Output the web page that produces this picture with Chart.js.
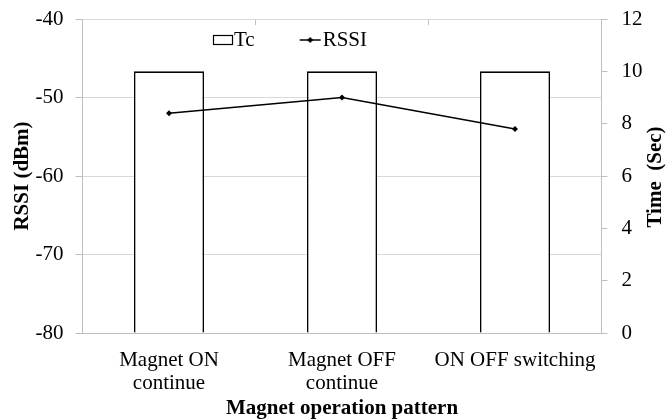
<!DOCTYPE html>
<html>
<head>
<meta charset="utf-8">
<script src="https://cdn.jsdelivr.net/npm/chart.js@4"></script>
<style>
html,body{margin:0;padding:0;background:#fff;}
#wrap{width:672px;height:419px;}
</style>
</head>
<body>
<div id="wrap"><canvas id="c" width="672" height="419"></canvas></div>
<script>
// ---- data ----
const categories = [["Magnet ON", "continue"], ["Magnet OFF", "continue"], "ON OFF switching"];
const tcValues = [10, 10, 10];
const rssiValues = [-52, -50, -54];
const rssiTicks = [-80, -70, -60, -50, -40];
const timeTicks = [0, 2, 4, 6, 8, 10, 12];
const seriesNames = ["Tc", "RSSI"];
const xTitle = "Magnet operation pattern";
const yTitle = "RSSI (dBm)";
const y1Title = "Time  (Sec)";

const FONT = '"Liberation Serif", "Times New Roman", serif';
const GRID = '#d9d9d9';
const AXIS = '#bfbfbf';

// legend symbols
function makeBoxIcon() {
  const c = document.createElement('canvas');
  c.width = 22; c.height = 12;
  const g = c.getContext('2d');
  g.fillStyle = '#fff';
  g.fillRect(1.5, 1.5, 19, 9);
  g.strokeStyle = '#000';
  g.lineWidth = 1.2;
  g.strokeRect(1.5, 1.5, 19, 9);
  return c;
}
function makeLineIcon() {
  const c = document.createElement('canvas');
  c.width = 30; c.height = 10;
  const g = c.getContext('2d');
  g.strokeStyle = '#000';
  g.lineWidth = 1.5;
  g.beginPath(); g.moveTo(3, 5); g.lineTo(24, 5); g.stroke();
  g.fillStyle = '#000';
  g.beginPath(); g.moveTo(13.5, 2); g.lineTo(16.5, 5); g.lineTo(13.5, 8); g.lineTo(10.5, 5); g.closePath(); g.fill();
  return c;
}
const boxIcon = makeBoxIcon();
const lineIcon = makeLineIcon();

const legendShift = {
  id: 'legendShift',
  beforeUpdate(chart) {
    if (chart.legend) chart.legend.isHorizontal = () => true;
  },
  afterUpdate(chart) {
    const lg = chart.legend;
    if (!lg) return;
    lg.left = 166;
    lg.right = 660;
    lg.top = -27;
  }
};

const rightTitle = {
  id: 'rightTitle',
  afterDraw(chart) {
    const s = chart.scales.y1;
    const ctx = chart.ctx;
    ctx.save();
    ctx.font = 'bold 21px ' + FONT;
    ctx.fillStyle = '#000';
    ctx.textAlign = 'center';
    ctx.textBaseline = 'middle';
    ctx.translate(s.right - 16, (s.top + s.bottom) / 2 + 1);
    ctx.rotate(-Math.PI / 2);
    ctx.fillText(y1Title, 0, 0);
    ctx.restore();
  }
};

new Chart(document.getElementById('c'), {
  data: {
    labels: categories,
    datasets: [
      {
        type: 'bar',
        label: seriesNames[0],
        data: tcValues,
        yAxisID: 'y1',
        backgroundColor: '#ffffff',
        borderColor: '#000000',
        borderWidth: 1.6,
        barPercentage: 0.405,
        categoryPercentage: 1,
        order: 2
      },
      {
        type: 'line',
        label: seriesNames[1],
        data: rssiValues,
        yAxisID: 'y',
        borderColor: '#000000',
        borderWidth: 1.5,
        backgroundColor: '#000000',
        pointStyle: 'rectRot',
        pointRadius: 3,
        pointBorderWidth: 0,
        pointBackgroundColor: '#000000',
        tension: 0,
        order: 1
      }
    ]
  },
  options: {
    responsive: false,
    animation: false,
    devicePixelRatio: 1,
    layout: { padding: { top: 19, left: 0, right: 0, bottom: 0 } },
    plugins: {
      tooltip: { enabled: false },
      legend: {
        position: 'chartArea',
        align: 'start',
        labels: {
          usePointStyle: true,
          pointStyleWidth: 1,
          boxHeight: 21,
          padding: 56.5,
          color: '#000',
          font: { family: FONT, size: 21 },
          generateLabels: () => [
            { text: seriesNames[0], pointStyle: boxIcon, fillStyle: '#fff', strokeStyle: '#000', lineWidth: 0, hidden: false, datasetIndex: 0 },
            { text: seriesNames[1], pointStyle: lineIcon, fillStyle: '#000', strokeStyle: '#000', lineWidth: 0, hidden: false, datasetIndex: 1 }
          ]
        }
      }
    },
    scales: {
      x: {
        type: 'category',
        position: 'bottom',
        grid: { display: false, drawTicks: false },
        border: { display: true, color: AXIS, width: 1 },
        ticks: {
          color: '#000',
          padding: 16,
          maxRotation: 0,
          autoSkip: false,
          font: { family: FONT, size: 21, lineHeight: 1.1 }
        },
        title: {
          display: true,
          text: xTitle,
          color: '#000',
          padding: { top: 0, bottom: 0 },
          font: { family: FONT, size: 21, weight: 'bold', lineHeight: 1 }
        },
        afterFit: s => { s.height = 86; }
      },
      xTop: {
        type: 'category',
        position: 'top',
        offset: true,
        grid: { display: true, offset: true, drawOnChartArea: false, drawTicks: true, tickLength: -6, tickColor: AXIS, color: AXIS },
        border: { display: false },
        ticks: { display: false },
        afterFit: s => { s.height = 0; }
      },
      y: {
        position: 'left',
        min: -80,
        max: -40,
        afterBuildTicks: s => { s.ticks = rssiTicks.map(v => ({ value: v })); },
        grid: { color: GRID, lineWidth: 1, tickLength: 7, tickColor: AXIS },
        border: { display: true, color: AXIS, width: 1 },
        ticks: {
          color: '#000',
          padding: 12,
          font: { family: FONT, size: 21, lineHeight: 0.4 }
        },
        title: {
          display: true,
          text: yTitle,
          color: '#000',
          padding: { top: 12, bottom: 0 },
          font: { family: FONT, size: 21, weight: 'bold', lineHeight: 1 }
        },
        afterFit: s => { s.width = 82.5; }
      },
      y1: {
        position: 'right',
        min: 0,
        max: 12,
        afterBuildTicks: s => { s.ticks = timeTicks.map(v => ({ value: v })); },
        grid: { drawOnChartArea: false, tickLength: 6, tickColor: AXIS, color: AXIS },
        border: { display: true, color: AXIS, width: 1 },
        ticks: {
          color: '#000',
          padding: 14,
          font: { family: FONT, size: 21, lineHeight: 0.4 }
        },
        afterFit: s => { s.width = 70.5; }
      }
    }
  },
  plugins: [legendShift, rightTitle]
});
</script>
</body>
</html>
